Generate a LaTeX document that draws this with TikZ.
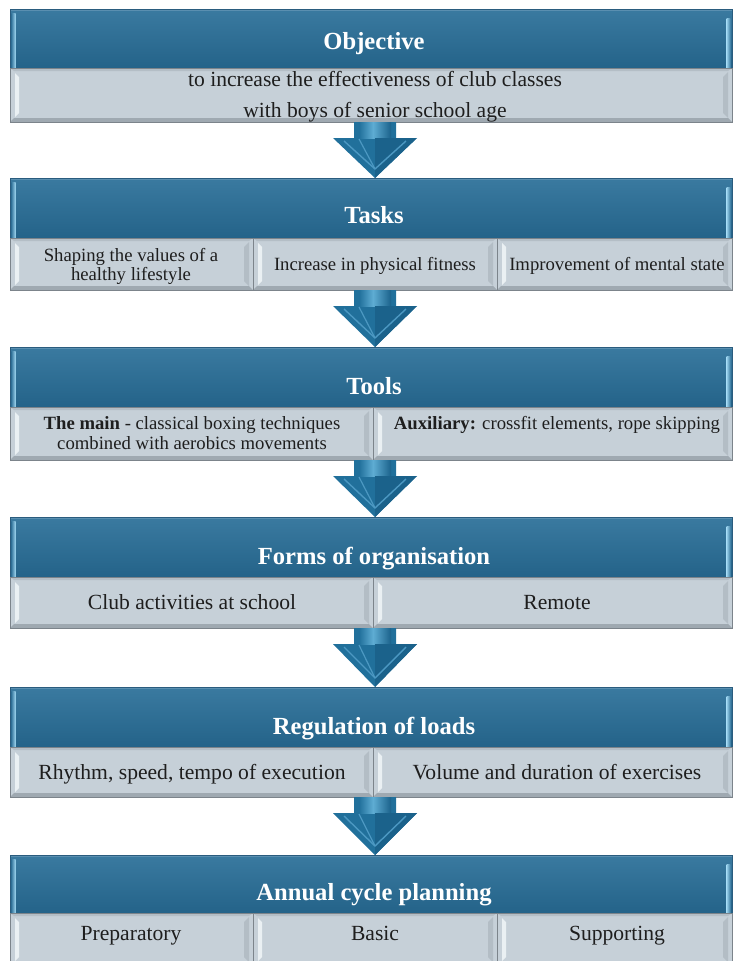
\documentclass[tikz,border=0pt]{standalone}
\usepackage{fontspec}
\setmainfont{Liberation Serif}
\usetikzlibrary{calc}

\definecolor{hdrtop}{HTML}{3A7AA0}
\definecolor{hdrbot}{HTML}{246389}
\definecolor{hdrline}{HTML}{2A5C7E}
\definecolor{hdredge}{HTML}{9BD3EE}
\definecolor{hdrtopline}{HTML}{5A8FB0}
\definecolor{cellfill}{HTML}{C6D0D8}
\definecolor{cellline}{HTML}{7C848B}
\definecolor{celltopc}{HTML}{B4BEC6}
\definecolor{cellbotc}{HTML}{9FA9B1}
\definecolor{cellhi}{HTML}{EAF0F3}
\definecolor{cellrightc}{HTML}{B3BDC5}
\definecolor{arrowfill}{HTML}{21709B}
\definecolor{arrowhi}{HTML}{5EACD3}
\definecolor{arrowdark}{HTML}{1B628B}
\definecolor{arrowridge}{HTML}{4C98C2}
\definecolor{txt}{HTML}{1E1E1E}

\tikzset{
  x=1pt, y=-1pt,
  headbase/.style={rectangle, inner sep=0pt, outer sep=0pt,
    top color=hdrtop, bottom color=hdrbot},
  cellbase/.style={rectangle, inner sep=0pt, outer sep=0pt, fill=cellfill},
  titlefont/.style={font=\fontsize{24.6}{28}\selectfont\bfseries,
    text=white, inner sep=0pt},
  bodyL/.style={font=\fontsize{21.6}{24}\selectfont, text=txt, inner sep=0pt},
  bodyS/.style={font=\fontsize{18.7}{21}\selectfont, text=txt, inner sep=0pt},
}

% blue title bar: name, top, bottom, title, title baseline
\newcommand\headbar[5]{%
  \node[headbase, anchor=north west, minimum width=722pt,
        minimum height={(#3-#2)*1pt}] (#1) at (10,#2) {};
  \shade[left color=hdrtop, right color=hdredge]
    ([shift={(1.5pt,-4pt)}]#1.north west) rectangle ([shift={(5.5pt,0pt)}]#1.south west);
  \shade[left color=hdredge, right color=hdrtop]
    ([shift={(-5.5pt,-9pt)}]#1.north east) rectangle ([shift={(-1.5pt,0pt)}]#1.south east);
  \fill[hdrtopline] (#1.north west) rectangle ([yshift=-2pt]#1.north east);
  \draw[hdrline, line width=0.8pt] (#1.north west) rectangle (#1.south east);
  \node[titlefont, anchor=base] (#1-title) at (374,#5) {#4};
}

% bevelled grey cell: name, x1, y1, x2, y2
\newcommand\cellbox[5]{%
  \node[cellbase, anchor=north west, minimum width={(#4-#2)*1pt},
        minimum height={(#5-#3)*1pt}] (#1) at (#2,#3) {};
  \fill[celltopc] (#1.north west) -- (#1.north east)
    -- ([shift={(-4pt,-3pt)}]#1.north east) -- ([shift={(4pt,-3pt)}]#1.north west) -- cycle;
  \fill[cellbotc] (#1.south west) -- (#1.south east)
    -- ([shift={(-4pt,4pt)}]#1.south east) -- ([shift={(4pt,4pt)}]#1.south west) -- cycle;
  \fill[cellhi] ([shift={(5pt,-5pt)}]#1.north west) -- ([shift={(9pt,-9pt)}]#1.north west)
    -- ([shift={(9pt,9pt)}]#1.south west) -- ([shift={(5pt,5pt)}]#1.south west) -- cycle;
  \fill[cellrightc] ([shift={(-4pt,-4pt)}]#1.north east) -- ([shift={(-9pt,-9pt)}]#1.north east)
    -- ([shift={(-9pt,9pt)}]#1.south east) -- ([shift={(-4pt,4pt)}]#1.south east) -- cycle;
  \draw[cellline, line width=0.8pt] (#1.north west) rectangle (#1.south east);
}

% block arrow from the bottom of a cell row to the next title bar
\newcommand\flowarrow[2]{%
  \fill[arrowfill] let \p1=(#1.south), \p2=(#2.north) in
    (\x2-17pt,\y1) -- (\x2+25pt,\y1) -- (\x2+25pt,\y1-16pt) -- (\x2+46pt,\y1-16pt)
    -- (\x2+4pt,\y2) -- (\x2-38pt,\y1-16pt) -- (\x2-17pt,\y1-16pt) -- cycle;
  \shade[left color=arrowfill, right color=arrowhi] let \p1=(#1.south), \p2=(#2.north) in
    (\x2-12pt,\y1) rectangle (\x2+2pt,\y1-16pt);
  \shade[left color=arrowhi, right color=arrowdark] let \p1=(#1.south), \p2=(#2.north) in
    (\x2+2pt,\y1) rectangle (\x2+20pt,\y1-16pt);
  \fill[arrowdark] let \p1=(#1.south), \p2=(#2.north) in
    (\x2+4pt,\y1-16pt) -- (\x2+46pt,\y1-16pt) -- (\x2+4pt,\y2) -- cycle;
  \draw[arrowridge, line width=1.4pt, line join=round] let \p1=(#1.south), \p2=(#2.north) in
    (\x2-27pt,\y1-19pt) -- (\x2+4pt,\y2+9pt) -- (\x2+35pt,\y1-19pt);
  \draw[arrowridge, line width=1.2pt] let \p1=(#1.south), \p2=(#2.north) in
    (\x2-12pt,\y1-17pt) -- (\x2+4pt,\y2+9pt);
}

\begin{document}
\begin{tikzpicture}
\useasboundingbox[fill=white] (0,0) rectangle (733,961);

% Objective
\headbar{hobj}{9}{68}{Objective}{49}
\cellbox{cobj}{10}{68}{732}{122}
\node[bodyL, anchor=base] (tobj1) at (375,86) {to increase the effectiveness of club classes};
\node[bodyL, anchor=base] (tobj2) at (375,117) {with boys of senior school age};

% Tasks
\headbar{htask}{178}{238}{Tasks}{223}
\cellbox{ctask1}{10}{238}{253}{290}
\cellbox{ctask2}{253}{238}{497}{290}
\cellbox{ctask3}{497}{238}{732}{290}
\node[bodyS, anchor=base] (ttask1a) at (131,261) {Shaping the values of a};
\node[bodyS, anchor=base] (ttask1b) at (131,280) {healthy lifestyle};
\node[bodyS, anchor=base] (ttask2) at (375,270) {Increase in physical fitness};
\node[bodyS, anchor=base] (ttask3) at (617,270) {Improvement of mental state};

% Tools
\headbar{htool}{347}{407}{Tools}{394}
\cellbox{ctool1}{10}{407}{373}{460}
\cellbox{ctool2}{373}{407}{732}{460}
\node[bodyS, anchor=base] (ttool1a) at (192,429) {\textbf{The main} - classical boxing techniques};
\node[bodyS, anchor=base] (ttool1b) at (192,449) {combined with aerobics movements};
\node[bodyS, anchor=base] (ttool2) at (557,429) {\textbf{Auxiliary:} crossfit elements, rope skipping};

% Forms of organisation
\headbar{hform}{517}{577}{Forms of organisation}{564}
\cellbox{cform1}{10}{577}{373}{628}
\cellbox{cform2}{373}{577}{732}{628}
\node[bodyL, anchor=base] (tform1) at (192,609) {Club activities at school};
\node[bodyL, anchor=base] (tform2) at (557,609) {Remote};

% Regulation of loads
\headbar{hreg}{687}{747}{Regulation of loads}{734}
\cellbox{creg1}{10}{747}{373}{797}
\cellbox{creg2}{373}{747}{732}{797}
\node[bodyL, anchor=base] (treg1) at (192,779) {Rhythm, speed, tempo of execution};
\node[bodyL, anchor=base] (treg2) at (557,779) {Volume and duration of exercises};

% Annual cycle planning
\headbar{hann}{855}{913}{Annual cycle planning}{900}
\cellbox{cann1}{10}{913}{253}{966}
\cellbox{cann2}{253}{913}{497}{966}
\cellbox{cann3}{497}{913}{732}{966}
\node[bodyL, anchor=base] (tann1) at (131,940) {Preparatory};
\node[bodyL, anchor=base] (tann2) at (375,940) {Basic};
\node[bodyL, anchor=base] (tann3) at (617,940) {Supporting};

% arrows between the stages
\flowarrow{cobj}{htask}
\flowarrow{ctask2}{htool}
\flowarrow{ctool1}{hform}
\flowarrow{cform1}{hreg}
\flowarrow{creg1}{hann}
\end{tikzpicture}
\end{document}
